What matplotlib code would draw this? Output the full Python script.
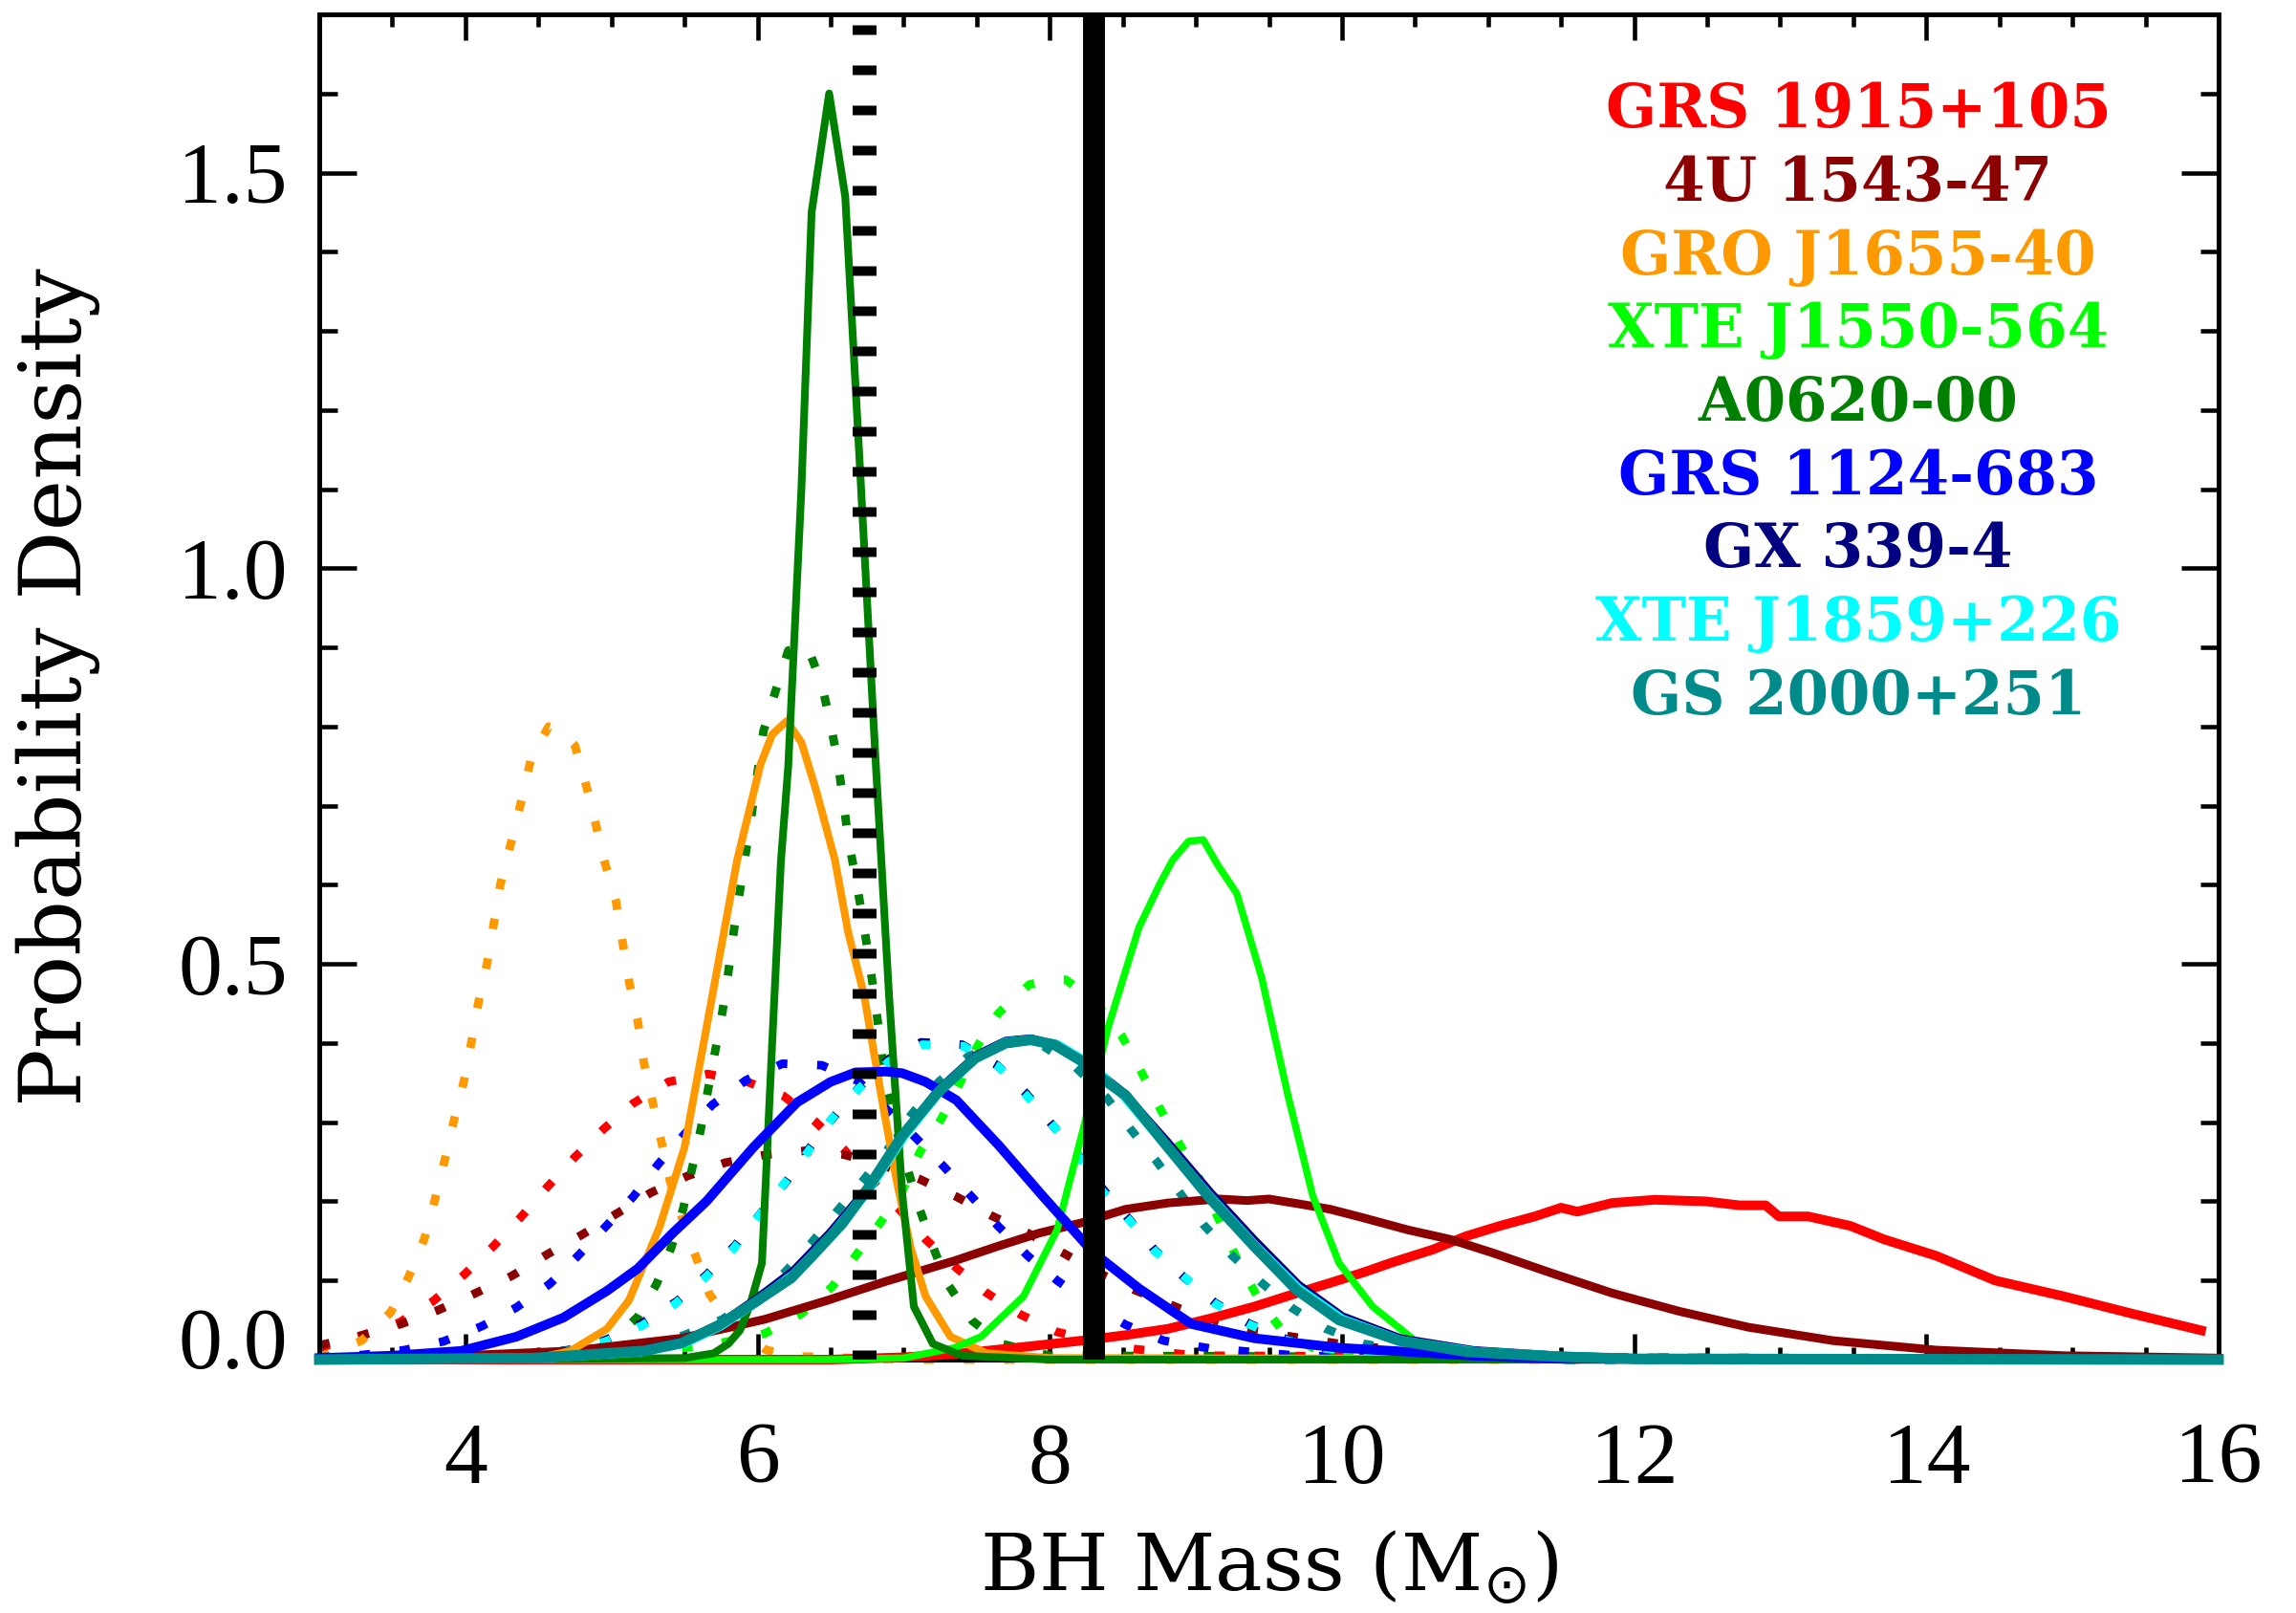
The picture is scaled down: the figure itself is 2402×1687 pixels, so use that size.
import matplotlib
matplotlib.use("Agg")
import matplotlib.pyplot as plt
import matplotlib.transforms as mtransforms
from matplotlib.ticker import MultipleLocator, FormatStrFormatter

# ---------------------------------------------------------------------------
# Black-hole mass probability densities (mass in solar masses)
# "solid" = primary estimate, "dotted" = alternative estimate
# ---------------------------------------------------------------------------

# GRS 1915+105
grs1915_solid_m = [3.0, 6.5, 7.0, 7.35, 7.82, 8.22, 8.52, 8.81, 9.10, 9.40, 9.69, 9.92,
                   10.16, 10.33, 10.62, 10.85, 11.08, 11.32, 11.50, 11.61, 11.85, 12.14,
                   12.49, 12.72, 12.90, 12.99, 13.19, 13.48, 13.71, 14.07, 14.47, 14.94,
                   15.41, 15.88]
grs1915_solid_p = [0.0, 0.0, 0.003, 0.007, 0.016, 0.024, 0.031, 0.039, 0.052, 0.067, 0.084,
                   0.097, 0.111, 0.122, 0.139, 0.156, 0.169, 0.181, 0.192, 0.187, 0.198,
                   0.202, 0.200, 0.195, 0.195, 0.181, 0.181, 0.169, 0.152, 0.131, 0.100,
                   0.080, 0.058, 0.037]
grs1915_dot_m = [3.0, 3.25, 3.55, 3.78, 3.99, 4.19, 4.38, 4.56, 4.75, 4.95, 5.15, 5.39,
                 5.66, 5.93, 6.18, 6.40, 6.59, 6.76, 6.97, 7.15, 7.36, 7.57, 7.80, 8.05,
                 8.5, 9.0, 16.0]
grs1915_dot_p = [0.015, 0.028, 0.047, 0.074, 0.107, 0.143, 0.180, 0.218, 0.256, 0.292,
                 0.324, 0.351, 0.361, 0.351, 0.333, 0.300, 0.266, 0.230, 0.190, 0.152,
                 0.116, 0.084, 0.057, 0.035, 0.015, 0.005, 0.0]

# 4U 1543-47
u1543_solid_m = [3.0, 3.97, 4.73, 5.48, 6.05, 6.48, 6.88, 7.35, 7.64, 7.93, 8.22, 8.52,
                 8.81, 9.16, 9.35, 9.50, 9.70, 9.92, 10.15, 10.45, 10.74, 11.03, 11.44,
                 11.85, 12.31, 12.78, 13.36, 14.07, 14.94, 16.0]
u1543_solid_p = [0.002, 0.005, 0.011, 0.027, 0.051, 0.075, 0.099, 0.125, 0.143, 0.160,
                 0.173, 0.190, 0.198, 0.203, 0.201, 0.203, 0.197, 0.190, 0.179, 0.164,
                 0.152, 0.135, 0.109, 0.084, 0.061, 0.041, 0.024, 0.012, 0.005, 0.002]
u1543_dot_m = [3.0, 3.30, 3.56, 3.82, 4.07, 4.32, 4.56, 4.80, 5.04, 5.27, 5.52, 5.78,
               6.06, 6.33, 6.59, 6.84, 7.11, 7.36, 7.60, 7.85, 8.08, 8.33, 8.58, 8.95,
               9.37, 9.98, 10.6, 11.5, 16.0]
u1543_dot_p = [0.018, 0.031, 0.045, 0.063, 0.084, 0.106, 0.133, 0.158, 0.185, 0.211,
               0.232, 0.249, 0.259, 0.264, 0.259, 0.247, 0.228, 0.206, 0.182, 0.160,
               0.136, 0.110, 0.088, 0.060, 0.037, 0.020, 0.008, 0.002, 0.0]

# GRO J1655-40
gro1655_solid_m = [3.0, 4.5, 4.72, 4.97, 5.12, 5.33, 5.50, 5.74, 5.86, 6.02, 6.10, 6.20,
                   6.30, 6.40, 6.53, 6.62, 6.73, 6.85, 6.95, 7.05, 7.15, 7.32, 7.57, 8.0,
                   16.0]
gro1655_solid_p = [0.0, 0.002, 0.011, 0.039, 0.075, 0.168, 0.268, 0.510, 0.631, 0.752,
                   0.790, 0.807, 0.780, 0.720, 0.631, 0.540, 0.460, 0.330, 0.228, 0.140,
                   0.080, 0.029, 0.008, 0.002, 0.0]
gro1655_dot_m = [3.0, 3.29, 3.49, 3.61, 3.72, 3.79, 3.86, 3.92, 3.99, 4.04, 4.09, 4.15,
                 4.24, 4.35, 4.45, 4.57, 4.65, 4.75, 4.85, 4.95, 5.03, 5.12, 5.18, 5.22,
                 5.28, 5.34, 5.40, 5.49, 5.58, 5.67, 5.82, 6.06, 6.3, 7.0, 16.0]
gro1655_dot_p = [0.003, 0.024, 0.060, 0.104, 0.153, 0.201, 0.253, 0.301, 0.352, 0.400,
                 0.452, 0.502, 0.601, 0.680, 0.760, 0.800, 0.795, 0.776, 0.710, 0.631,
                 0.580, 0.478, 0.428, 0.377, 0.327, 0.277, 0.226, 0.175, 0.129, 0.083,
                 0.043, 0.012, 0.004, 0.0, 0.0]

# XTE J1550-564
xte1550_solid_m = [3.0, 6.5, 7.0, 7.35, 7.53, 7.82, 8.05, 8.23, 8.40, 8.61, 8.75, 8.84,
                   8.95, 9.05, 9.15, 9.28, 9.45, 9.63, 9.80, 9.98, 10.21, 10.50, 10.97,
                   11.5, 16.0]
xte1550_solid_p = [0.0, 0.0, 0.002, 0.015, 0.029, 0.080, 0.164, 0.292, 0.420, 0.546,
                   0.600, 0.631, 0.655, 0.657, 0.625, 0.589, 0.483, 0.334, 0.207, 0.122,
                   0.067, 0.024, 0.004, 0.0, 0.0]
xte1550_dot_m = [3.0, 5.0, 5.72, 6.05, 6.30, 6.51, 6.67, 6.84, 6.99, 7.11, 7.26, 7.40,
                 7.51, 7.65, 7.86, 8.0, 8.11, 8.30, 8.49, 8.62, 8.75, 8.88, 9.02, 9.15,
                 9.30, 9.45, 9.60, 9.80, 10.2, 16.0]
xte1550_dot_p = [0.0, 0.003, 0.020, 0.033, 0.058, 0.092, 0.131, 0.173, 0.213, 0.262,
                 0.305, 0.355, 0.398, 0.438, 0.474, 0.480, 0.480, 0.455, 0.410, 0.366,
                 0.319, 0.275, 0.230, 0.180, 0.120, 0.070, 0.035, 0.015, 0.003, 0.0]

# A0620-00
a0620_solid_m = [3.0, 4.0, 5.5, 5.7, 5.8, 5.88, 5.95, 6.03, 6.10, 6.16, 6.21, 6.30, 6.37,
                 6.49, 6.60, 6.70, 6.81, 6.90, 6.99, 7.07, 7.20, 7.40, 8.0, 16.0]
a0620_solid_p = [0.0, 0.0, 0.002, 0.008, 0.020, 0.037, 0.070, 0.122, 0.400, 0.630, 0.750,
                 1.100, 1.450, 1.600, 1.470, 1.130, 0.750, 0.460, 0.210, 0.067, 0.020,
                 0.005, 0.0, 0.0]
a0620_dot_m = [3.0, 4.6, 4.97, 5.18, 5.31, 5.41, 5.49, 5.55, 5.61, 5.66, 5.71, 5.76,
               5.80, 5.84, 5.88, 5.96, 6.04, 6.12, 6.21, 6.34, 6.44, 6.50, 6.55, 6.62,
               6.72, 6.80, 6.88, 6.95, 7.03, 7.11, 7.20, 7.30, 7.47, 7.67, 8.0, 16.0]
a0620_dot_p = [0.0, 0.003, 0.018, 0.054, 0.096, 0.142, 0.190, 0.240, 0.290, 0.340, 0.390,
               0.440, 0.490, 0.545, 0.593, 0.690, 0.794, 0.843, 0.896, 0.902, 0.853,
               0.803, 0.755, 0.660, 0.558, 0.460, 0.343, 0.290, 0.239, 0.190, 0.143,
               0.096, 0.049, 0.020, 0.005, 0.0]

# GRS 1124-683
grs1124_solid_m = [3.0, 3.5, 3.97, 4.35, 4.67, 4.97, 5.18, 5.42, 5.65, 5.97, 6.27, 6.50,
                   6.67, 6.88, 6.99, 7.15, 7.36, 7.65, 7.96, 8.30, 8.61, 8.97, 9.40, 9.98,
                   10.9, 11.5, 16.0]
grs1124_solid_p = [0.002, 0.005, 0.011, 0.029, 0.053, 0.087, 0.115, 0.160, 0.200, 0.268,
                   0.325, 0.351, 0.363, 0.364, 0.362, 0.351, 0.328, 0.271, 0.205, 0.135,
                   0.090, 0.045, 0.027, 0.015, 0.005, 0.001, 0.0]
grs1124_dot_m = [3.0, 3.30, 3.58, 3.85, 4.11, 4.35, 4.58, 4.77, 4.96, 5.15, 5.32, 5.50,
                 5.69, 5.92, 6.17, 6.44, 6.69, 6.88, 7.09, 7.28, 7.47, 7.65, 7.85, 8.05,
                 8.28, 8.52, 8.78, 9.1, 9.7, 10.5, 16.0]
grs1124_dot_p = [0.003, 0.006, 0.012, 0.023, 0.042, 0.066, 0.096, 0.131, 0.168, 0.206,
                 0.247, 0.285, 0.322, 0.353, 0.374, 0.372, 0.352, 0.317, 0.279, 0.243,
                 0.205, 0.168, 0.131, 0.100, 0.070, 0.044, 0.024, 0.014, 0.005, 0.001,
                 0.0]

# GX 339-4
gx339_solid_m = [3.0, 4.5, 5.2, 5.5, 5.75, 6.0, 6.25, 6.5, 6.75, 7.0, 7.25, 7.5, 7.7,
                 7.87, 8.05, 8.25, 8.5, 8.8, 9.1, 9.4, 9.7, 10.0, 10.4, 10.9, 11.5, 12.0,
                 16.0]
gx339_solid_p = [0.0, 0.002, 0.011, 0.023, 0.045, 0.077, 0.112, 0.160, 0.215, 0.285,
                 0.342, 0.384, 0.402, 0.405, 0.397, 0.374, 0.337, 0.275, 0.210, 0.150,
                 0.094, 0.054, 0.026, 0.011, 0.004, 0.001, 0.0]
gx339_dot_m = [3.0, 4.0, 4.4, 4.7, 4.95, 5.2, 5.45, 5.65, 5.85, 6.0, 6.2, 6.35, 6.5, 6.7,
               6.9, 7.12, 7.4, 7.64, 7.84, 8.02, 8.2, 8.37, 8.55, 8.72, 8.92, 9.13, 9.37,
               9.63, 9.9, 10.2, 10.75, 11.5, 16.0]
gx339_dot_p = [0.0, 0.002, 0.006, 0.012, 0.024, 0.045, 0.074, 0.107, 0.145, 0.180, 0.226,
               0.266, 0.302, 0.345, 0.380, 0.401, 0.398, 0.372, 0.336, 0.296, 0.257,
               0.214, 0.176, 0.138, 0.104, 0.072, 0.045, 0.025, 0.014, 0.007, 0.002,
               0.0, 0.0]

# XTE J1859+226
xte1859_solid_m = [3.0, 4.5, 5.2, 5.5, 5.75, 6.0, 6.25, 6.5, 6.75, 7.0, 7.25, 7.5, 7.7,
                   7.87, 8.05, 8.25, 8.5, 8.8, 9.1, 9.4, 9.7, 10.0, 10.4, 10.9, 11.5,
                   12.0, 16.0]
xte1859_solid_p = [0.0, 0.002, 0.010, 0.021, 0.043, 0.074, 0.108, 0.156, 0.212, 0.282,
                   0.340, 0.382, 0.401, 0.404, 0.398, 0.376, 0.335, 0.270, 0.205, 0.145,
                   0.090, 0.051, 0.024, 0.010, 0.004, 0.001, 0.0]
xte1859_dot_m = [3.0, 4.0, 4.41, 4.69, 4.96, 5.21, 5.44, 5.65, 5.84, 6.01, 6.18, 6.35,
                 6.51, 6.69, 6.90, 7.13, 7.41, 7.65, 7.84, 8.03, 8.20, 8.36, 8.55, 8.72,
                 8.93, 9.13, 9.37, 9.63, 9.89, 10.2, 10.75, 11.5, 16.0]
xte1859_dot_p = [0.0, 0.002, 0.006, 0.011, 0.023, 0.043, 0.071, 0.105, 0.141, 0.182,
                 0.222, 0.264, 0.305, 0.342, 0.377, 0.398, 0.396, 0.370, 0.334, 0.294,
                 0.256, 0.213, 0.175, 0.137, 0.103, 0.071, 0.044, 0.024, 0.014, 0.007,
                 0.002, 0.0, 0.0]

# GS 2000+251
gs2000_solid_m = [3.0, 4.47, 5.22, 5.48, 5.73, 5.97, 6.23, 6.38, 6.58, 6.75, 6.99, 7.24,
                  7.49, 7.70, 7.87, 8.03, 8.22, 8.36, 8.52, 8.81, 9.10, 9.40, 9.69, 9.98,
                  10.39, 10.85, 11.44, 12.0, 16.0]
gs2000_solid_p = [0.0, 0.002, 0.011, 0.021, 0.043, 0.071, 0.103, 0.132, 0.172, 0.215,
                  0.283, 0.339, 0.381, 0.400, 0.404, 0.398, 0.377, 0.355, 0.334, 0.268,
                  0.203, 0.143, 0.088, 0.050, 0.024, 0.010, 0.004, 0.001, 0.0]
gs2000_dot_m = [3.0, 4.5, 5.22, 5.50, 5.76, 5.99, 6.19, 6.38, 6.55, 6.73, 6.90, 7.05,
                7.24, 7.44, 7.67, 7.95, 8.18, 8.39, 8.55, 8.73, 8.89, 9.05, 9.24, 9.45,
                9.66, 9.89, 10.15, 10.45, 11.0, 16.0]
gs2000_dot_p = [0.0, 0.004, 0.017, 0.031, 0.051, 0.078, 0.111, 0.150, 0.189, 0.228,
                0.268, 0.309, 0.351, 0.383, 0.400, 0.397, 0.369, 0.331, 0.292, 0.251,
                0.211, 0.171, 0.133, 0.097, 0.065, 0.039, 0.020, 0.010, 0.002, 0.0]

source_names = ["GRS 1915+105", "4U 1543-47", "GRO J1655-40", "XTE J1550-564",
                "A0620-00", "GRS 1124-683", "GX 339-4", "XTE J1859+226", "GS 2000+251"]
source_colors = ["#ff0000", "#8b0000", "#ff9900", "#00ff00", "#008000",
                 "#0000ff", "#000080", "#00ffff", "#008b8b"]

# reference masses marked by vertical lines
mark_dotted_mass = 6.73
mark_solid_mass = 8.30

x_ticks = [4, 6, 8, 10, 12, 14, 16]
y_ticks = [0.0, 0.5, 1.0, 1.5]

# ---------------------------------------------------------------------------
solid_m = [grs1915_solid_m, u1543_solid_m, gro1655_solid_m, xte1550_solid_m,
           a0620_solid_m, grs1124_solid_m, gx339_solid_m, xte1859_solid_m,
           gs2000_solid_m]
solid_p = [grs1915_solid_p, u1543_solid_p, gro1655_solid_p, xte1550_solid_p,
           a0620_solid_p, grs1124_solid_p, gx339_solid_p, xte1859_solid_p,
           gs2000_solid_p]
dot_m = [grs1915_dot_m, u1543_dot_m, gro1655_dot_m, xte1550_dot_m, a0620_dot_m,
         grs1124_dot_m, gx339_dot_m, xte1859_dot_m, gs2000_dot_m]
dot_p = [grs1915_dot_p, u1543_dot_p, gro1655_dot_p, xte1550_dot_p, a0620_dot_p,
         grs1124_dot_p, gx339_dot_p, xte1859_dot_p, gs2000_dot_p]
solid_widths = [7.2, 6.5, 5.8, 5.4, 5.8, 7.2, 7.2, 7.2, 7.9]

plt.rcParams["font.family"] = ["Liberation Serif", "DejaVu Serif"]

W, H = 2402, 1687
fig = plt.figure(figsize=(W / 100, H / 100), dpi=100)
left, right, top, bottom = 334, 2321, 15, 1422
ax = fig.add_axes([left / W, 1 - bottom / H, (right - left) / W, (bottom - top) / H])

dot_style = (0, (1.25, 3.5))
for m, p, c in zip(dot_m, dot_p, source_colors):
    ax.plot(m, p, color=c, lw=6.4, ls=dot_style, dash_capstyle="butt",
            clip_on=False, zorder=2)
for m, p, c, w in zip(solid_m, solid_p, source_colors, solid_widths):
    ax.plot(m, p, color=c, lw=w, solid_joinstyle="round", clip_on=False, zorder=3)

ax.axvline(mark_dotted_mass, color="black", lw=18, ls=(0, (0.4, 1.28)),
           dash_capstyle="butt", zorder=4)
ax.axvline(mark_solid_mass, color="black", lw=16.5, zorder=4)

ax.set_xlim(3, 16)
ax.set_ylim(0, 1.7)
ax.set_xticks(x_ticks)
ax.set_yticks(y_ticks)
ax.xaxis.set_minor_locator(MultipleLocator(0.5))
ax.yaxis.set_minor_locator(MultipleLocator(0.1))
ax.xaxis.set_major_formatter(FormatStrFormatter("%d"))
ax.yaxis.set_major_formatter(FormatStrFormatter("%.1f"))

for s in ax.spines.values():
    s.set_linewidth(3.6)
ax.tick_params(which="both", direction="in", top=True, right=True, width=3.3,
               labelsize=66)
ax.tick_params(axis="x", which="major", length=19.5, pad=47)
ax.tick_params(axis="x", which="minor", length=9.7)
ax.tick_params(axis="y", which="major", length=28, pad=24)
ax.tick_params(axis="y", which="minor", length=14)

ax.set_xlabel(r"BH Mass (M$_{\odot}$)", family="DejaVu Serif", fontsize=60)
ax.xaxis.label.set_va("baseline")
ax.xaxis.set_label_coords(0.5, (bottom - 1663) / (bottom - top))
ax.set_ylabel("Probability Density", family="DejaVu Serif", fontsize=65)
ax.yaxis.label.set_va("center")
ax.yaxis.set_label_coords((61 - left) / (right - left), 0.5)

# source names, coloured like their curves
leg_x = (1944 - left) / (right - left)
for i, (name, c) in enumerate(zip(source_names, source_colors)):
    yb = 133 + 76.75 * i
    ax.text(leg_x, (bottom - yb) / (bottom - top), name, color=c, transform=ax.transAxes,
            ha="center", va="baseline", fontsize=45, fontweight="bold",
            family="DejaVu Serif", zorder=5)

# lift the lowest y label off the x axis
fig.canvas.draw()
t0 = ax.yaxis.get_major_ticks()[0]
t0.label1.set_transform(t0.label1.get_transform() +
                        mtransforms.ScaledTranslation(0, 0.23, fig.dpi_scale_trans))

fig.savefig("out.png", dpi=100, facecolor="white")
